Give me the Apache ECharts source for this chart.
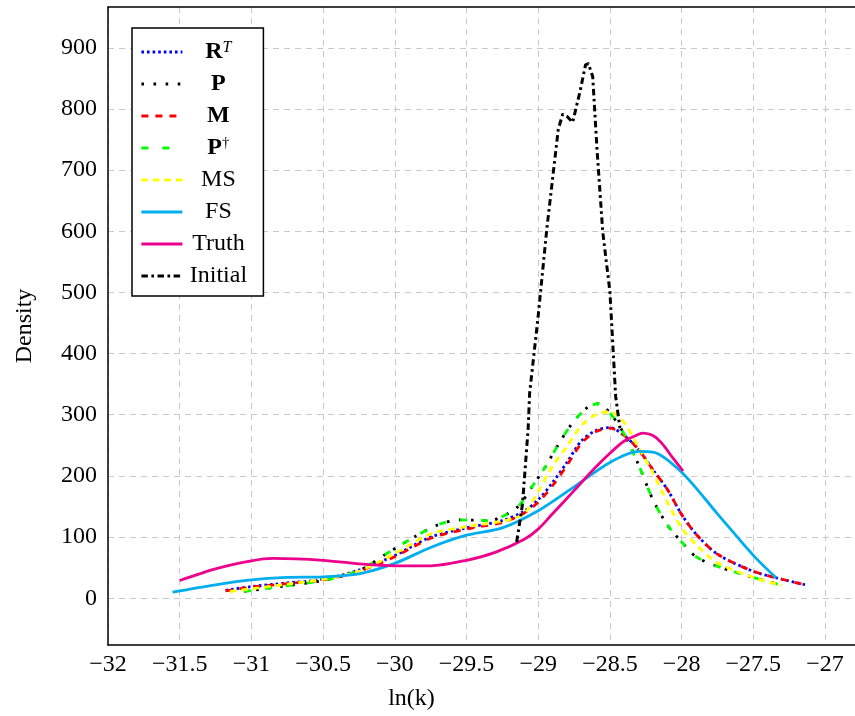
<!DOCTYPE html>
<html><head><meta charset="utf-8">
<script src="https://cdn.jsdelivr.net/npm/echarts@6/dist/echarts.min.js"></script>
<style>html,body{margin:0;padding:0;background:#fff}#c{width:855px;height:716px}</style>
</head><body><div id="c"></div><script>
// ---- data ----
const rtX   = [-31.18,-31.0,-30.75,-30.5,-30.25,-30.0,-29.75,-29.5,-29.25,-29.1,-29.0,-28.9,-28.8,-28.7,-28.6,-28.5,-28.4,-28.3,-28.2,-28.1,-28.0,-27.9,-27.75,-27.5,-27.3,-27.14];
const rtY   = [13,19,25,31,46,70,100,115,127,142,161,189,222,257,274,279,266,243,210,178,137,105,72,44,31,22];
const mX    = rtX;
const mY    = [12,18,24,30,44,68,98,113,124,139,157,184,217,253,272,278,266,243,210,178,137,105,72,44,31,22];
const pX    = [-31.05,-30.8,-30.5,-30.25,-30.05,-29.85,-29.7,-29.55,-29.35,-29.15,-29.05,-28.95,-28.85,-28.75,-28.65,-28.58,-28.5,-28.4,-28.3,-28.2,-28.1,-28.0,-27.9,-27.75,-27.5,-27.33];
const pY    = [11,19,29,45,74,102,120,128,127,148,180,215,255,290,313,318,303,268,218,161,120,92,68,52,34,23];
const pdX   = pX;
const pdY   = pY;
const msX   = [-31.15,-30.75,-30.5,-30.25,-30.0,-29.75,-29.5,-29.25,-29.1,-29.0,-28.9,-28.8,-28.7,-28.6,-28.5,-28.4,-28.3,-28.2,-28.1,-28.0,-27.9,-27.75,-27.5,-27.3];
const msY   = [11,23,31,44,73,105,117,126,138,175,216,248,282,300,305,287,246,205,157,115,88,58,34,21];
const fsX   = [-31.55,-31.25,-31.0,-30.75,-30.5,-30.25,-30.0,-29.75,-29.5,-29.25,-29.0,-28.75,-28.5,-28.3,-28.2,-28.0,-27.75,-27.5,-27.34];
const fsY   = [10,22,30,34,35,40,57,83,103,115,143,182,222,240,239,206,138,70,33];
const trX   = [-31.5,-31.25,-31.0,-30.85,-30.5,-30.25,-30.0,-29.75,-29.5,-29.3,-29.1,-29.0,-28.9,-28.75,-28.6,-28.5,-28.4,-28.3,-28.27,-28.2,-28.14,-28.06,-27.99];
const trY   = [29,48,61,65,62,56,53,53,62,75,96,113,138,176,214,237,257,268,270,266,254,229,208];
const inX   = [-29.15,-29.11,-29.07,-29.06,-29.0,-28.94,-28.86,-28.83,-28.8,-28.76,-28.71,-28.67,-28.65,-28.62,-28.59,-28.55,-28.5,-28.46,-28.43];
const inY   = [92,153,278,335,462,604,767,791,788,778,827,872,874,853,734,599,501,330,278];
const seriesNames = ['RT','P','M','Pdag','MS','FS','Truth','Initial'];
const xTicks = [-32,-31.5,-31,-30.5,-30,-29.5,-29,-28.5,-28,-27.5,-27];
const yTicks = [0,100,200,300,400,500,600,700,800,900];

// ---- chart ----
const F = '"Liberation Serif","DejaVu Serif",serif';
const pairs = (xs, ys) => xs.map((x, i) => [x, ys[i]]);
const labelMap = {
  RT: '{b|R}{sup|T}', P: '{b|P}', M: '{b|M}', Pdag: '{b|P}{dag|\u2020}',
  MS: '{r|MS}', FS: '{r|FS}', Truth: '{r|Truth}', Initial: '{r|Initial}'
};
const mk = (name, xs, ys, color, dash, width, smooth) => ({
  name, type: 'line', data: pairs(xs, ys), symbol: 'none', smooth: smooth,
  lineStyle: { color, width, type: dash, cap: 'butt', join: 'round' },
  itemStyle: { color }, emphasis: { disabled: true }
});
const axisFont = { fontFamily: F, fontSize: 24, color: '#000' };
const chart = echarts.init(document.getElementById('c'), null, { renderer: 'canvas' });
chart.setOption({
  animation: false,
  backgroundColor: '#fff',
  grid: { left: 108, right: 0, top: 7, bottom: 68, show: false, containLabel: false },
  xAxis: [{
    type: 'value', min: -32, max: -26.791, interval: 0.5,
    name: 'ln(k)', nameLocation: 'middle', nameGap: 42,
    nameTextStyle: Object.assign({ padding: [0, 140, 0, 0] }, axisFont),
    axisLine: { show: true, onZero: false, lineStyle: { color: '#000', width: 1.5 } },
    axisTick: { show: false },
    axisLabel: Object.assign({ margin: 8, showMaxLabel: false,
      formatter: v => xTicks.some(t => Math.abs(t - v) < 1e-6) ? (v < 0 ? '\u2212' : '') + Math.abs(v) : '' }, axisFont),
    splitLine: { show: true, showMaxLine: false, lineStyle: { color: '#c8c8c8', width: 1, type: [6, 5] } }
  }, {
    type: 'value', position: 'top', min: -32, max: -26.791,
    axisLine: { show: true, onZero: false, lineStyle: { color: '#000', width: 1.5 } },
    axisTick: { show: false }, axisLabel: { show: false }, splitLine: { show: false }
  }],
  yAxis: {
    type: 'value', min: -76.5, max: 966.7, splitNumber: 10,
    name: 'Density', nameLocation: 'middle', nameGap: 71, nameRotate: 90,
    nameTextStyle: axisFont,
    axisLine: { show: true, onZero: false, lineStyle: { color: '#000', width: 1.5 } },
    axisTick: { show: false },
    axisLabel: Object.assign({ margin: 11, showMinLabel: false, showMaxLabel: false,
      formatter: v => yTicks.some(t => Math.abs(t - v) < 1e-6) ? String(Math.round(v)) : '' }, axisFont),
    splitLine: { show: true, showMaxLine: false, showMinLine: false, lineStyle: { color: '#c8c8c8', width: 1, type: [6, 5] } }
  },
  legend: {
    orient: 'vertical', left: 132, top: 28, padding: [12, 14, 8, 8],
    itemWidth: 41, itemHeight: 14, itemGap: 8, selectedMode: false,
    borderColor: '#000', borderWidth: 1.5, backgroundColor: '#fff',
    itemStyle: { color: 'rgba(0,0,0,0)', borderColor: 'rgba(0,0,0,0)', borderWidth: 0, opacity: 0 },
    lineStyle: { width: 2.8, cap: 'butt' },
    data: seriesNames,
    formatter: n => labelMap[n],
    textStyle: {
      fontFamily: F, fontSize: 24, color: '#000', width: 62, lineHeight: 24,
      rich: {
        b: { fontFamily: F, fontSize: 24, fontWeight: 'bold', lineHeight: 24, align: 'center' },
        sup: { fontFamily: F, fontSize: 16, fontStyle: 'italic', lineHeight: 24, verticalAlign: 'top', align: 'center' },
        dag: { fontFamily: F, fontSize: 15, lineHeight: 24, verticalAlign: 'top', align: 'center' },
        r: { fontFamily: F, fontSize: 24, lineHeight: 24, align: 'center' }
      }
    }
  },
  series: [
    mk('RT', rtX, rtY, '#0000ff', [2.6, 3], 2.8, 0.3),
    mk('P', pX, pY, '#000000', [2.6, 9.5], 2.8, 0.3),
    mk('M', mX, mY, '#ff0000', [7, 7], 2.8, 0.3),
    mk('Pdag', pdX, pdY, '#00ff00', [7, 14], 2.8, 0.3),
    mk('MS', msX, msY, '#ffff00', [6.5, 5], 2.8, 0.3),
    mk('FS', fsX, fsY, '#00aeef', 'solid', 2.8, 0.3),
    mk('Truth', trX, trY, '#ec008c', 'solid', 2.8, 0.3),
    mk('Initial', inX, inY, '#000000', [6.5, 3.5, 2.6, 3.5], 3, false)
  ]
});
</script></body></html>
